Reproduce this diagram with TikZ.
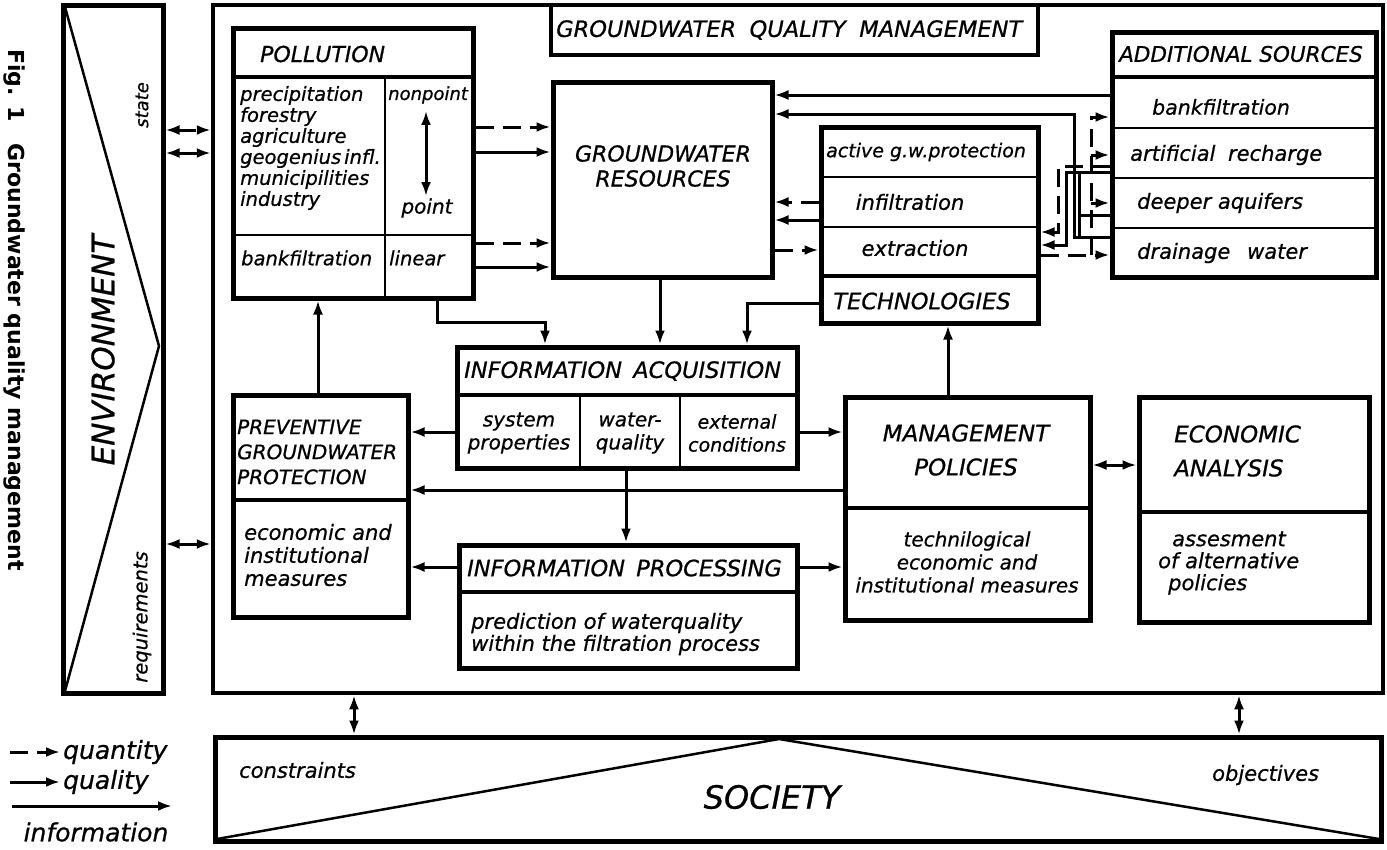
\documentclass[tikz,border=0pt]{standalone}
\usepackage{fontspec}
\setmainfont{DejaVu Sans}[ItalicFont={DejaVu Sans Oblique},ItalicFeatures={FakeBold=0.7},BoldFont={DejaVu Sans Bold}]
\usetikzlibrary{arrows.meta,fit,calc}
\begin{document}
\begin{tikzpicture}[x=1pt,y=-1pt,
  bx/.style={draw,line width=5pt,inner sep=0pt,rectangle,fit={#1}},
  ln/.style={line width=3pt},
  dv/.style={line width=2.5pt},
  hd/.style={line width=4.5pt},
  qty/.style={line width=3pt,dash pattern=on 18pt off 9pt},
  arr/.style={-{Latex[length=14pt,width=10pt]}},
  darr/.style={{Latex[length=14pt,width=10pt]}-{Latex[length=14pt,width=10pt]}},
  tx/.style={font=\itshape\fontsize{#1}{#1}\selectfont,inner sep=0pt},
  txl/.style 2 args={font=\itshape\fontsize{#1}{#2}\selectfont,inner sep=0pt}]
\useasboundingbox (0,0) rectangle (1387,849);
\fill[white] (0,0) rectangle (1387,849);

% caption
\node[font=\bfseries\fontsize{22}{22}\selectfont,rotate=-90,inner sep=0pt] (cap) at (14,310) {Fig. 1\quad Groundwater quality management};

% ENVIRONMENT
\node[bx={(63,5) (163,693)}] (env) {};
\draw[dv] (65,7) -- (159,346) -- (65,691);
\node[tx=31,rotate=90] (envt) at (103,350) {ENVIRONMENT};
\node[tx=18,rotate=90] (st) at (142,105) {state};
\node[tx=19.5,rotate=90] (rq) at (142,617) {requirements};

% main box
\node[bx={(213,5) (1383,693)},line width=4.5pt] (gqm) {};
\node[bx={(551,5) (1038,55)},line width=4pt] (title) {};
\node[tx=22.5,anchor=west] (titlet) at (556,30) {GROUNDWATER\hspace{0.6em}QUALITY\hspace{0.6em}MANAGEMENT};

% environment arrows
\draw[qty,darr] (env.east |- 0,130) -- (gqm.west |- 0,130);
\draw[ln,darr] (env.east |- 0,153) -- (gqm.west |- 0,153);
\draw[ln,darr] (env.east |- 0,544) -- (gqm.west |- 0,544);

% POLLUTION
\node[bx={(233,28) (473,298)}] (pol) {};
\draw[hd] (233,77) -- (473,77);
\draw[dv] (385,77) -- (385,298);
\draw[dv] (233,235) -- (473,235);
\node[tx=22,anchor=west] (polt) at (260,54) {POLLUTION};
\node[txl={19.5}{21},anchor=west,align=left] (pollist) at (240,148)
  {precipitation\\forestry\\agriculture\\geogenius\hspace{3pt}infl.\\municipilities\\industry};
\node[tx=18,anchor=west] (np) at (388,95) {nonpoint};
\node[tx=20] (pt) at (427,208) {point};
\draw[ln,darr,shorten <=7pt,shorten >=2pt] (np.south -| 426,0) -- (pt.north -| 426,0);
\node[tx=19.5,anchor=west] (pbf) at (241,258) {bankfiltration};
\node[tx=19.5,anchor=west] (lin) at (389,258) {linear};

% GROUNDWATER RESOURCES
\node[bx={(553,82) (772,277)}] (gr) {};
\node[txl={22}{25},align=center] (grt) at (663,166) {GROUNDWATER\\RESOURCES};

\draw[qty,arr] (pol.east |- 0,127) -- (gr.west |- 0,127);
\draw[ln,arr] (pol.east |- 0,152) -- (gr.west |- 0,152);
\draw[qty,arr] (pol.east |- 0,243) -- (gr.west |- 0,243);
\draw[ln,arr] (pol.east |- 0,267) -- (gr.west |- 0,267);

% ADDITIONAL SOURCES
\node[bx={(1112,32) (1376,277)}] (as) {};
\draw[hd] (1112,77) -- (1376,77);
\draw[dv] (1112,128) -- (1376,128);
\draw[dv] (1112,178) -- (1376,178);
\draw[dv] (1112,228) -- (1376,228);
\node[tx=21.5,anchor=west] (ast) at (1119,54) {ADDITIONAL SOURCES};
\node[tx=20.5,anchor=west] (asbf) at (1152,107) {bankfiltration};
\node[tx=21,anchor=west] (asar) at (1130,155) {artificial\hspace{0.6em}recharge};
\node[tx=21,anchor=west] (asda) at (1137,203) {deeper aquifers};
\node[tx=21,anchor=west] (asdw) at (1137,253) {drainage\hspace{0.8em}water};

% TECHNOLOGIES
\node[bx={(821,127) (1038,323)}] (tech) {};
\draw[dv] (821,177) -- (1038,177);
\draw[dv] (821,227) -- (1038,227);
\draw[hd] (821,276) -- (1038,276);
\node[tx=19,anchor=west] (tag) at (826,152) {active g.w.protection};
\node[tx=21] (tin) at (910,202) {infiltration};
\node[tx=21] (tex) at (915,248) {extraction};
\node[tx=22.5] (tt) at (922,301) {TECHNOLOGIES};

% GR <-> technologies
\draw[qty,arr] (tech.west |- 0,202) -- (gr.east |- 0,202);
\draw[ln,arr] (tech.west |- 0,220) -- (gr.east |- 0,220);
\draw[qty,arr] (gr.east |- 0,250) -- (tech.west |- 0,250);

% additional sources lattice
\draw[ln,arr] (as.west |- 0,95) -- (gr.east |- 0,95);
\draw[ln,arr] (as.west |- 0,237) -| (1074,114) -- (gr.east |- 0,114);
\draw[ln] (1079,172) -- (1079,237);
\draw[ln] (1079,215) -- (as.west |- 0,215);
\draw[ln,arr] (as.west |- 0,172) -| (1066,245) -- (tech.east |- 0,245);
\draw[qty,arr] (as.west |- 0,166) -| (1058,232) -- (tech.east |- 0,232);
\draw[qty,arr] (tech.east |- 0,255) -- (as.west |- 0,255);
\draw[qty,arr] (1091,255) |- (as.west |- 0,117);
\draw[qty,arr] (1091,155) -- (as.west |- 0,155);
\draw[qty,arr] (1091,203) -- (as.west |- 0,203);

% INFORMATION ACQUISITION
\node[bx={(457,347) (797,468)}] (ia) {};
\draw[hd] (457,395) -- (797,395);
\draw[dv] (580,395) -- (580,468);
\draw[dv] (680,395) -- (680,468);
\node[tx=22.5,anchor=west] (iat) at (464,371) {INFORMATION\hspace{0.5em}ACQUISITION};
\node[txl={20}{23},align=center] (iasp) at (519,433) {system\\properties};
\node[txl={20}{23},align=center] (iawq) at (630,433) {water-\\quality};
\node[txl={19}{23},align=center] (iaec) at (737,433) {external\\conditions};

% connectors into IA
\draw[ln,arr] (pol.south -| 437,0) |- (545,322) -- (ia.north -| 545,0);
\draw[ln,arr] (gr.south -| 660,0) -- (ia.north -| 660,0);
\draw[ln,arr] (tech.west |- 0,303) -| (ia.north -| 747,0);

% PREVENTIVE
\node[bx={(233,395) (408,617)}] (prev) {};
\draw[hd] (233,500) -- (408,500);
\node[txl={20}{25},anchor=west,align=left] (prevt) at (237,452) {PREVENTIVE\\GROUNDWATER\\PROTECTION};
\node[txl={21}{23},anchor=west,align=left] (prevb) at (244,555) {economic and\\institutional\\measures};
\draw[ln,arr] (prev.north -| 318,0) -- (pol.south -| 318,0);

% INFORMATION PROCESSING
\node[bx={(459,545) (797,668)}] (ip) {};
\draw[hd] (459,592) -- (797,592);
\node[tx=22.5,anchor=west] (ipt) at (467,568) {INFORMATION\hspace{0.5em}PROCESSING};
\node[txl={21}{22},anchor=west,align=left] (ipb) at (471,634) {prediction of waterquality\\within the filtration process};

% MANAGEMENT POLICIES
\node[bx={(845,397) (1090,620)}] (mp) {};
\draw[hd] (845,508) -- (1090,508);
\node[txl={23}{34},align=center] (mpt) at (966,450) {MANAGEMENT\\POLICIES};
\node[txl={20}{23},align=center] (mpb) at (967,562) {technilogical\\economic and\\institutional measures};

% ECONOMIC ANALYSIS
\node[bx={(1139,397) (1369,622)}] (ea) {};
\draw[hd] (1139,512) -- (1369,512);
\node[txl={23}{34},anchor=west,align=left] (eat) at (1174,451) {ECONOMIC\\ANALYSIS};
\node[txl={21}{22},anchor=west,align=left] (eab) at (1158,563) {\hspace{14pt}assesment\\of alternative\\\hspace{10pt}policies};

% middle connectors
\draw[ln,arr] (ia.west |- 0,432) -- (prev.east |- 0,432);
\draw[ln,arr] (mp.west |- 0,490) -- (prev.east |- 0,490);
\draw[ln,arr] (ip.west |- 0,567) -- (prev.east |- 0,567);
\draw[ln,arr] (ia.east |- 0,432) -- (mp.west |- 0,432);
\draw[ln,arr] (ip.east |- 0,567) -- (mp.west |- 0,567);
\draw[ln,arr] (ia.south -| 626,0) -- (ip.north -| 626,0);
\draw[ln,arr] (mp.north -| 948,0) -- (tech.south -| 948,0);
\draw[ln,darr] (mp.east |- 0,465) -- (ea.west |- 0,465);

% SOCIETY
\node[bx={(215,737) (1381,841)}] (soc) {};
\draw[dv] (217,839) -- (779,739) -- (1379,839);
\node[tx=32] (soct) at (772,797) {SOCIETY};
\node[tx=21,anchor=west] (con) at (239,770) {constraints};
\node[tx=21,anchor=west] (obj) at (1212,775) {objectives};
\draw[ln,darr] (gqm.south -| 354,0) -- (soc.north -| 354,0);
\draw[ln,darr] (gqm.south -| 1239,0) -- (soc.north -| 1239,0);

% legend
\coordinate (q0) at (10,752);
\node[tx=25,anchor=west] (lq) at (63,752) {quantity};
\draw[qty,arr,shorten >=3pt] (q0) -- (lq.west);
\coordinate (ql0) at (10,782);
\node[tx=25,anchor=west] (lql) at (63,782) {quality};
\draw[ln,arr,shorten >=3pt] (ql0) -- (lql.west);
\coordinate (i0) at (12,806);
\coordinate (i1) at (172,806);
\draw[ln,arr] (i0) -- (i1);
\node[tx=25] (li) at (96,832) {information};
\end{tikzpicture}
\end{document}
